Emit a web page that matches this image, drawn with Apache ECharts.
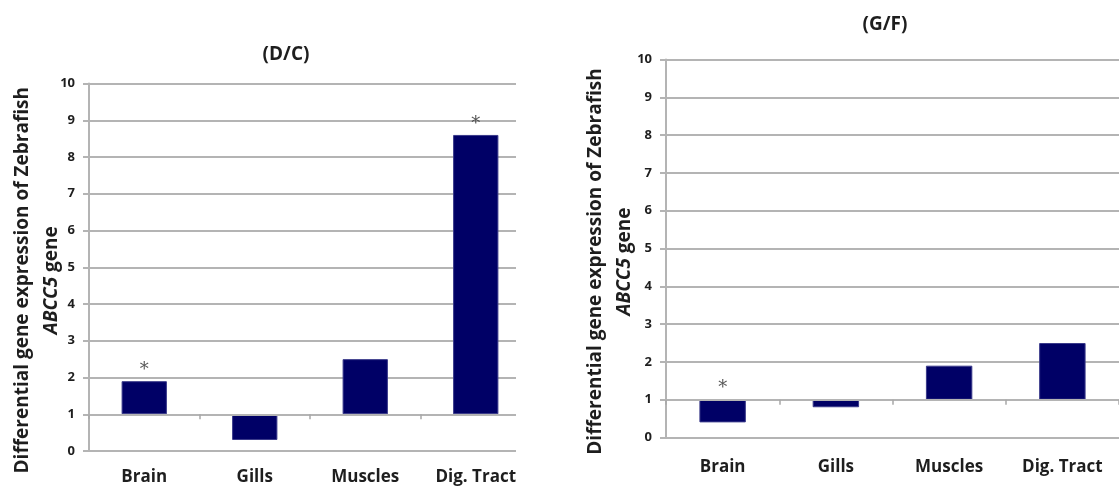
<!DOCTYPE html>
<html>
<head>
<meta charset="utf-8">
<script src="https://cdn.jsdelivr.net/npm/echarts@6/dist/echarts.min.js"></script>
<style>
  html, body { margin: 0; padding: 0; background: #fff; }
  #chart { width: 1119px; height: 486px; }
</style>
</head>
<body>
<div id="chart"></div>
<script>
// Tissues shown on both panels
const tissues = ['Brain', 'Gills', 'Muscles', 'Dig. Tract'];

// Fold change of ABCC5 expression, D vs C
const dcValues = [1.9, 0.3, 2.5, 8.6];
const dcSignificant = [true, false, false, true];

// Fold change of ABCC5 expression, G vs F
const gfValues = [0.4, 0.8, 1.9, 2.5];
const gfSignificant = [true, false, false, false];

// Y-axis tick range (fold change)
const yTicks = [0, 10];
const baseline = 1; // bars rise or fall from a fold change of 1

const FONT = 'Open Sans';
const TEXT = '#1e1e1e';
const GRID = '#b4b4b4';
const BAR = '#000066';

// Values are plotted relative to the baseline so bars start at 1
const rel = v => +(v - baseline).toFixed(4);

function sigPoints(values, flags) {
  return values.map((v, i) => flags[i] ? Math.max(rel(v), 0) : '-');
}

function yAxis(gridIndex, nameGap) {
  const nameFont = { fontFamily: FONT, fontWeight: 'bold', fontSize: 19, color: TEXT, lineHeight: 29 };
  return {
    type: 'value',
    gridIndex,
    min: yTicks[0] - baseline,
    max: yTicks[1] - baseline,
    interval: 1,
    name: '{a|Differential gene expression of Zebrafish}\n{i|ABCC5}{a| gene}',
    nameLocation: 'middle',
    nameRotate: 90,
    nameGap,
    nameMoveOverlap: false,
    nameTextStyle: {
      color: TEXT,
      lineHeight: 29,
      padding: [0, 26, 0, 0],
      rich: {
        a: nameFont,
        i: Object.assign({}, nameFont, { fontStyle: 'italic' })
      }
    },
    axisLine: { show: true, lineStyle: { color: GRID, width: 2 } },
    axisTick: { show: true, length: 6, lineStyle: { color: GRID, width: 2 } },
    axisLabel: {
      margin: 14,
      color: TEXT,
      fontFamily: FONT,
      fontWeight: 'bold',
      fontSize: 13,
      formatter: v => String(Math.round(v + baseline))
    },
    splitLine: { show: true, lineStyle: { color: GRID, width: 2 } }
  };
}

// Axis drawn at the baseline, carrying the between-category ticks
function baseAxis(gridIndex) {
  return {
    type: 'category',
    gridIndex,
    data: tissues,
    axisLine: { show: true, onZero: true, lineStyle: { color: GRID, width: 2 } },
    axisTick: { show: true, interval: 0, inside: false, length: 5, lineStyle: { color: '#a8a8a8', width: 1.5 } },
    axisLabel: { show: false, interval: 0 },
    splitLine: { show: false },
    z: 10
  };
}

// Axis at the bottom, carrying the tissue labels
function labelAxis(gridIndex, margin) {
  return {
    type: 'category',
    gridIndex,
    data: tissues,
    position: 'bottom',
    axisLine: { show: false, onZero: false },
    axisTick: { show: false },
    axisLabel: {
      margin,
      color: TEXT,
      fontFamily: FONT,
      fontWeight: 'bold',
      fontSize: 17,
      interval: 0
    },
    splitLine: { show: false }
  };
}

function barSeries(axisIndex, values) {
  return {
    type: 'bar',
    xAxisIndex: axisIndex,
    yAxisIndex: axisIndex / 2,
    data: values.map(rel),
    barWidth: '41%',
    itemStyle: { color: BAR, borderColor: '#3a3a8a', borderWidth: 1 },
    z: 3
  };
}

function starSeries(axisIndex, values, flags) {
  return {
    type: 'scatter',
    xAxisIndex: axisIndex,
    yAxisIndex: axisIndex / 2,
    data: sigPoints(values, flags),
    symbol: 'circle',
    symbolSize: 2,
    itemStyle: { color: 'rgba(0,0,0,0)' },
    label: {
      show: true,
      position: 'top',
      distance: 1,
      formatter: '*',
      color: '#2a2a2a',
      fontFamily: 'DejaVu Serif',
      fontSize: 18
    },
    z: 4,
    silent: true
  };
}

const chart = echarts.init(document.getElementById('chart'), null, { renderer: 'canvas' });

chart.setOption({
  backgroundColor: '#ffffff',
  animation: false,
  title: [
    {
      text: '(D/C)', left: 281, top: 40, textAlign: 'center',
      textStyle: { fontFamily: FONT, fontWeight: 'bold', fontSize: 19, color: TEXT }
    },
    {
      text: '(G/F)', left: 880, top: 10, textAlign: 'center',
      textStyle: { fontFamily: FONT, fontWeight: 'bold', fontSize: 19, color: TEXT }
    }
  ],
  grid: [
    { left: 89, top: 83.5, width: 442, height: 369 },
    { left: 666, top: 59.5, width: 466, height: 378 }
  ],
  xAxis: [
    baseAxis(0), labelAxis(0, 18),
    baseAxis(1), labelAxis(1, 21)
  ],
  yAxis: [yAxis(0, 23), yAxis(1, 27)],
  series: [
    barSeries(0, dcValues),
    starSeries(0, dcValues, dcSignificant),
    barSeries(2, gfValues),
    starSeries(2, gfValues, gfSignificant)
  ],
  // The left panel is cropped just past its last category
  graphic: [
    {
      type: 'rect',
      left: 516, top: 60, z: 100,
      shape: { width: 60, height: 400 },
      style: { fill: '#ffffff' }
    }
  ]
});
</script>
</body>
</html>
